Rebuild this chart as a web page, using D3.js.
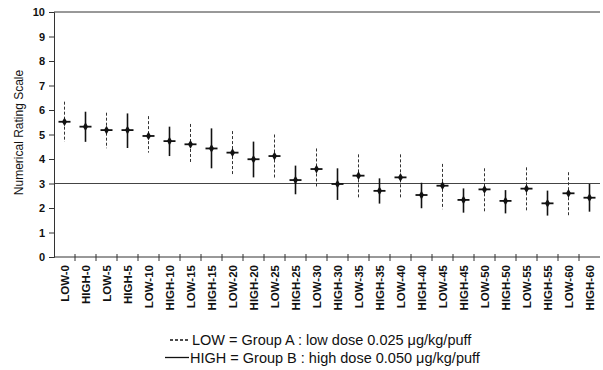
<!DOCTYPE html>
<html>
<head>
<meta charset="utf-8">
<script src="https://cdn.jsdelivr.net/npm/d3@7"></script>
<style>
  body { margin: 0; background: #fff; }
  text { font-family: Arial, "Liberation Sans", sans-serif; fill: #111; }
</style>
</head>
<body>
<svg id="chart" width="603" height="370"></svg>
<script>
// categories (group-minute)
const categories = ["LOW-0","HIGH-0","LOW-5","HIGH-5","LOW-10","HIGH-10","LOW-15","HIGH-15",
  "LOW-20","HIGH-20","LOW-25","HIGH-25","LOW-30","HIGH-30","LOW-35","HIGH-35",
  "LOW-40","HIGH-40","LOW-45","HIGH-45","LOW-50","HIGH-50","LOW-55","HIGH-55","LOW-60","HIGH-60"];
// mean values
const means = [5.52,5.32,5.18,5.18,4.94,4.73,4.6,4.43,4.26,3.99,4.12,3.14,3.59,2.98,3.32,2.7,
  3.25,2.53,2.91,2.33,2.76,2.29,2.79,2.19,2.6,2.42];
// error bar upper / lower ends
const upper = [6.34,5.93,5.89,5.86,5.75,5.32,5.43,5.25,5.14,4.71,5.0,3.73,4.43,3.62,4.19,3.21,
  4.19,3.03,3.8,2.8,3.62,2.73,3.66,2.71,3.46,2.98];
const lower = [4.7,4.7,4.44,4.45,4.26,4.12,3.8,3.62,3.31,3.25,3.21,2.56,2.8,2.33,2.37,2.18,
  2.36,1.99,1.95,1.81,1.85,1.78,1.89,1.69,1.69,1.85];
const yTicks = [0,1,2,3,4,5,6,7,8,9,10];
const refValue = 3;
const legendLines = [
  { dash: "3,2", text: "LOW = Group A : low dose 0.025 μg/kg/puff" },
  { dash: null, text: "HIGH = Group B : high dose 0.050 μg/kg/puff" }
];

const svg = d3.select("#chart");
const margin = { left: 54, right: 3, top: 12, bottom: 113 };
const width = +svg.attr("width"), height = +svg.attr("height");

const x = d3.scaleBand().domain(categories).range([margin.left, width - margin.right]);
const y = d3.scaleLinear().domain([0, 10]).range([height - margin.bottom, margin.top]);

const data = categories.map((c, i) => ({ cat: c, mean: means[i], hi: upper[i], lo: lower[i], low: c.startsWith("LOW") }));

// top border line and reference line at 3
svg.append("line")
  .attr("x1", margin.left).attr("x2", width - margin.right)
  .attr("y1", y(10)).attr("y2", y(10))
  .attr("stroke", "#333").attr("stroke-width", 1);
svg.append("line")
  .attr("x1", margin.left).attr("x2", width - margin.right)
  .attr("y1", y(refValue)).attr("y2", y(refValue))
  .attr("stroke", "#444").attr("stroke-width", 1);

// y axis
const gy = svg.append("g")
  .attr("transform", `translate(${margin.left},0)`)
  .call(d3.axisLeft(y).tickValues(yTicks).tickSize(5).tickPadding(4));
gy.select(".domain").attr("stroke", "#333");
gy.selectAll(".tick line").attr("stroke", "#333");
gy.selectAll("text").style("font-size", "11px").style("font-weight", "bold").attr("fill", "#111");

// x axis, ticks at band boundaries
const gx = svg.append("g").attr("transform", `translate(0,${y(0)})`);
gx.append("line")
  .attr("x1", margin.left).attr("x2", width - margin.right)
  .attr("stroke", "#333");
gx.selectAll(".xt")
  .data(categories.slice(1))
  .enter().append("line")
  .attr("x1", d => x(d)).attr("x2", d => x(d))
  .attr("y1", -3).attr("y2", 4)
  .attr("stroke", "#333");
gx.selectAll(".xl")
  .data(categories)
  .enter().append("text")
  .attr("transform", d => `translate(${x(d) + x.bandwidth() / 2 + 4},8) rotate(-90)`)
  .attr("text-anchor", "end")
  .style("font-size", "11.5px")
  .style("font-weight", "bold")
  .text(d => d);

// y axis title
svg.append("text")
  .attr("transform", `translate(23,${(y(0) + y(10)) / 2 - 2}) rotate(-90)`)
  .attr("text-anchor", "middle")
  .style("font-size", "12px")
  .text("Numerical Rating Scale");

// error bars
const cx = d => x(d.cat) + x.bandwidth() / 2;
svg.append("g").selectAll("line")
  .data(data)
  .enter().append("line")
  .attr("x1", cx).attr("x2", cx)
  .attr("y1", d => y(d.hi)).attr("y2", d => y(d.lo))
  .attr("stroke", d => d.low ? "#333" : "#111")
  .attr("stroke-width", d => d.low ? 1 : 1.6)
  .attr("stroke-dasharray", d => d.low ? "3,2" : null);

// markers: short horizontal bar + filled diamond
const marks = svg.append("g").selectAll("g")
  .data(data)
  .enter().append("g")
  .attr("transform", d => `translate(${cx(d)},${y(d.mean)})`);
marks.append("line")
  .attr("x1", -6).attr("x2", 6)
  .attr("stroke", "#111").attr("stroke-width", 1.8);
marks.append("path")
  .attr("d", d3.symbol(d3.symbolDiamond, 22))
  .attr("fill", "#111");

// legend
const lg = svg.append("g");
legendLines.forEach((l, i) => {
  const ly = 345 + i * 17.5;
  lg.append("line")
    .attr("x1", i === 0 ? 170 : 165).attr("x2", 189)
    .attr("y1", ly - 5).attr("y2", ly - 5)
    .attr("stroke", "#111")
    .attr("stroke-width", 1.3)
    .attr("stroke-dasharray", l.dash);
  lg.append("text")
    .attr("x", i === 0 ? 192 : 190).attr("y", ly)
    .style("font-size", "14.5px")
    .text(l.text);
});
</script>
</body>
</html>
